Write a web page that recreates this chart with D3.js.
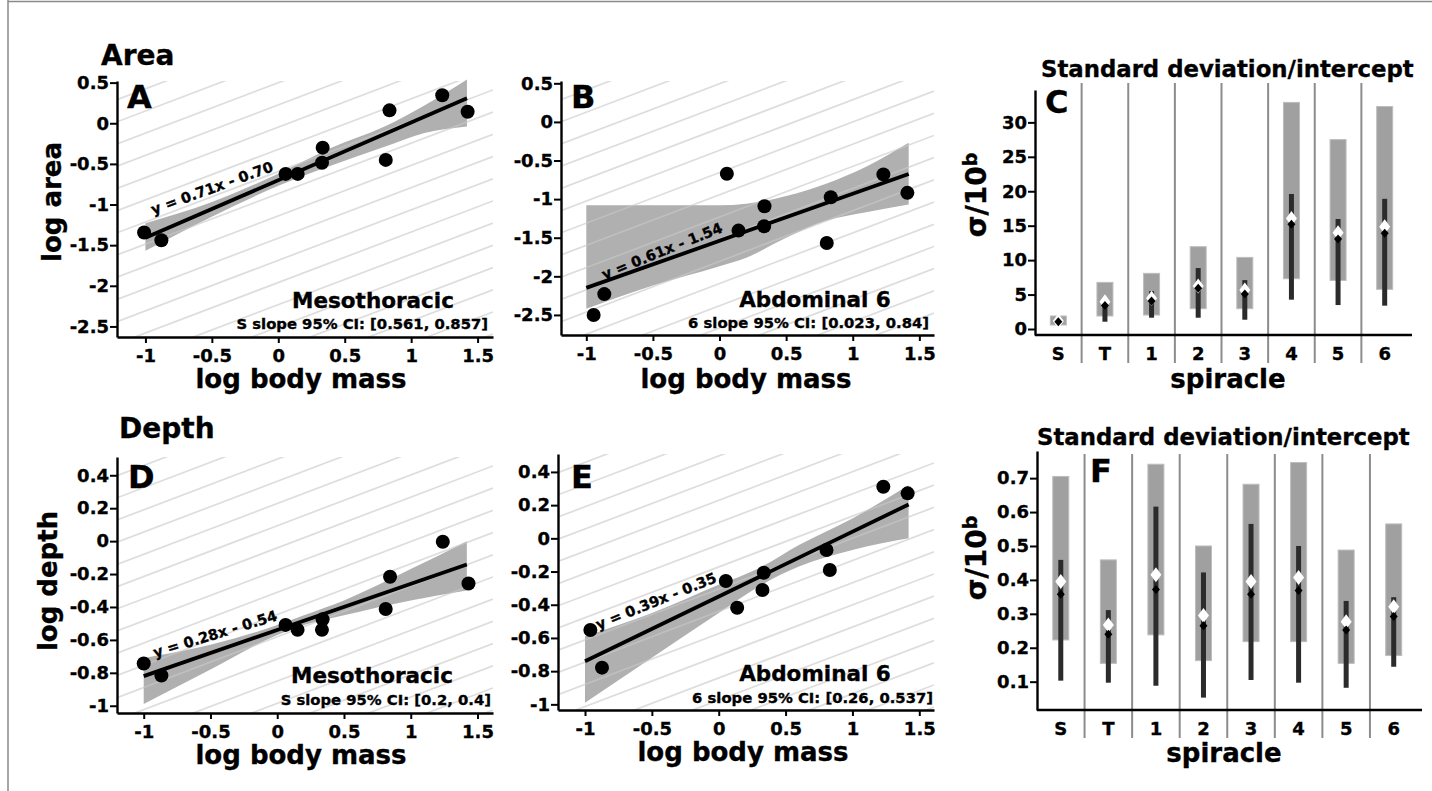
<!DOCTYPE html>
<html>
<head>
<meta charset="utf-8">
<script src="https://cdn.jsdelivr.net/npm/d3@7"></script>
<style>
	body { margin: 0; background: #fff; }
	text { font-family: "DejaVu Sans", sans-serif; font-weight: bold; fill: #000; stroke: #000; stroke-width: 0.35px; }
</style>
</head>
<body>
<svg width="1432" height="791"></svg>
<script>
// scatter data (log body mass vs log area / log depth)
var massA = [-1.01, -0.88, 0.055, 0.146, 0.334, 0.329, 0.809, 0.837, 1.234, 1.425];
var areaMeso = [-1.345, -1.439, -0.623, -0.623, -0.30, -0.485, -0.451, 0.159, 0.344, 0.142];
var massB = [-0.945, -0.865, 0.055, 0.1425, 0.3375, 0.335, 0.805, 0.835, 1.23, 1.41];
var areaAbd6 = [-2.50, -2.23, -0.672, -1.408, -1.092, -1.352, -1.568, -0.975, -0.680, -0.919];
var massD = [-1.0, -0.8675, 0.0625, 0.1525, 0.34, 0.335, 0.8125, 0.845, 1.24, 1.4325];
var depthMeso = [-0.743, -0.816, -0.509, -0.539, -0.475, -0.539, -0.412, -0.216, -0.004, -0.257];
var massE = [-0.96, -0.873, 0.053, 0.138, 0.337, 0.327, 0.806, 0.831, 1.231, 1.413];
var depthAbd6 = [-0.552, -0.779, -0.257, -0.418, -0.207, -0.311, -0.070, -0.191, 0.311, 0.271];

// fitted lines y = a x + b
var fitSlopes = [0.71, 0.61, 0.28, 0.39];
var fitIntercepts = [-0.70, -1.54, -0.54, -0.35];
var fitRange = [-1, 1.42];
var fitLabels = ["y = 0.71x - 0.70", "y = 0.61x - 1.54", "y = 0.28x - 0.54", "y = 0.39x - 0.35"];
var regionLabels = ["Mesothoracic", "Abdominal 6", "Mesothoracic", "Abdominal 6"];
var ciLabels = ["S slope 95% CI: [0.561, 0.857]", "6 slope 95% CI: [0.023, 0.84]",
	"S slope 95% CI: [0.2, 0.4]", "6 slope 95% CI: [0.26, 0.537]"];

// confidence bands
var bandXA = [-1.0, -0.5, 0.0, 0.4, 0.8, 1.1, 1.42];
var bandLoA = [-1.57, -1.15, -0.77, -0.52, -0.29, -0.12, -0.04];
var bandHiA = [-1.23, -0.97, -0.62, -0.30, -0.04, 0.22, 0.54];
var bandXB = [-1.0, -0.5, 0.0, 0.2, 0.5, 0.8, 1.1, 1.42];
var bandLoB = [-2.42, -2.12, -1.87, -1.76, -1.50, -1.28, -1.17, -1.07];
var bandHiB = [-1.08, -1.08, -1.08, -1.06, -0.96, -0.80, -0.58, -0.27];
var bandXD = [-1.0, -0.5, 0.0, 0.2, 0.5, 1.0, 1.42];
var bandLoD = [-0.99, -0.78, -0.57, -0.51, -0.45, -0.36, -0.30];
var bandHiD = [-0.71, -0.63, -0.51, -0.45, -0.36, -0.17, 0.0];
var bandXE = [-1.0, -0.5, 0.0, 0.3, 0.6, 1.0, 1.42];
var bandLoE = [-0.99, -0.72, -0.45, -0.29, -0.17, -0.07, 0.0];
var bandHiE = [-0.59, -0.45, -0.28, -0.18, -0.04, 0.12, 0.32];

// tick values
var massTicks = [-1, -0.5, 0, 0.5, 1, 1.5];
var areaTicks = [0.5, 0, -0.5, -1, -1.5, -2, -2.5];
var depthTicks = [0.4, 0.2, 0, -0.2, -0.4, -0.6, -0.8, -1];
var sdAreaTicks = [0, 5, 10, 15, 20, 25, 30];
var sdDepthTicks = [0.1, 0.2, 0.3, 0.4, 0.5, 0.6, 0.7];

// standard deviation / intercept per spiracle
var spiracles = ["S", "T", "1", "2", "3", "4", "5", "6"];
var sdAreaBoxLo = [0.58, 1.89, 2.03, 2.95, 2.95, 7.3, 7.06, 5.76];
var sdAreaBoxHi = [1.89, 6.77, 8.08, 11.95, 10.4, 32.9, 27.5, 32.3];
var sdAreaBarLo = [0.75, 1.06, 1.64, 1.64, 1.35, 4.26, 3.48, 3.39];
var sdAreaBarHi = [1.35, 4.5, 5.5, 8.85, 7.1, 19.6, 15.97, 18.9];
var sdAreaMed = [1.06, 3.43, 4.06, 5.9, 5.08, 15.2, 13.06, 13.9];
var sdAreaMean = [1.16, 3.97, 4.45, 6.24, 5.66, 16.06, 13.98, 14.85];
var sdDepthBoxLo = [0.223, 0.154, 0.238, 0.162, 0.218, 0.218, 0.154, 0.177];
var sdDepthBoxHi = [0.705, 0.459, 0.741, 0.500, 0.682, 0.746, 0.488, 0.565];
var sdDepthBarLo = [0.103, 0.097, 0.088, 0.053, 0.105, 0.097, 0.082, 0.144];
var sdDepthBarHi = [0.459, 0.311, 0.616, 0.422, 0.565, 0.500, 0.338, 0.349];
var sdDepthMed = [0.358, 0.240, 0.372, 0.265, 0.358, 0.369, 0.252, 0.292];
var sdDepthMean = [0.395, 0.267, 0.415, 0.295, 0.395, 0.407, 0.277, 0.321];

var svg = d3.select("svg");
var defs = svg.append("defs");

// frame
svg.append("line").attr("x1", 8).attr("x2", 8).attr("y1", 0).attr("y2", 791)
	.attr("stroke", "#8a8a8a").attr("stroke-width", 1.5);
svg.append("line").attr("x1", 8).attr("x2", 1432).attr("y1", 1.5).attr("y2", 1.5)
	.attr("stroke", "#8a8a8a").attr("stroke-width", 1.5);

function fmt(d) { return String(+d.toFixed(2)); }

function styleAxis(g) {
	g.attr("font-family", null).attr("font-size", null);
	g.select(".domain").attr("stroke", "#000").attr("stroke-width", 2.4);
	g.selectAll(".tick line").attr("stroke", "#000").attr("stroke-width", 2);
	g.selectAll(".tick text").style("font-size", "18px");
}

var scatterPanels = [
	{ id: "A", x: massA, y: areaMeso, bx: bandXA, lo: bandLoA, hi: bandHiA,
		left: 117, right: 493, top: 81, bottom: 337, xd: [-1.214, 1.616], yd: [-2.63, 0.52],
		yTicks: areaTicks, eq: [212, 188, -20], lab: [127, 108], region: [373, 308], ci: [488, 329] },
	{ id: "B", x: massB, y: areaAbd6, bx: bandXB, lo: bandLoB, hi: bandHiB,
		left: 561, right: 934, top: 81, bottom: 335, xd: [-1.19, 1.61], yd: [-2.76, 0.53],
		yTicks: areaTicks, eq: [662, 251, -22], lab: [571, 108], region: [815, 307], ci: [929, 328] },
	{ id: "D", x: massD, y: depthMeso, bx: bandXD, lo: bandLoD, hi: bandHiD,
		left: 117, right: 493, top: 457, bottom: 713, xd: [-1.2, 1.616], yd: [-1.044, 0.511],
		yTicks: depthTicks, eq: [215, 634, -17], lab: [128, 488], region: [372, 683], ci: [491, 705] },
	{ id: "E", x: massE, y: depthAbd6, bx: bandXE, lo: bandLoE, hi: bandHiE,
		left: 558, right: 934, top: 454, bottom: 710, xd: [-1.202, 1.61], yd: [-1.034, 0.508],
		yTicks: depthTicks, eq: [656, 601, -22], lab: [571, 488], region: [815, 681], ci: [933, 703] }
];

scatterPanels.forEach(function (p, i) {
	var x = d3.scaleLinear().domain(p.xd).range([p.left, p.right]);
	var y = d3.scaleLinear().domain(p.yd).range([p.bottom, p.top]);
	var g = svg.append("g");

	defs.append("clipPath").attr("id", "clip" + p.id)
		.append("rect").attr("x", p.left).attr("y", p.top)
		.attr("width", p.right - p.left).attr("height", p.bottom - p.top);

	// confidence band
	var band = p.bx.map(function (d, j) { return { x: d, lo: p.lo[j], hi: p.hi[j] }; });
	g.append("path")
		.datum(band)
		.attr("fill", "#b0b0b0")
		.attr("d", d3.area()
			.x(function (d) { return x(d.x); })
			.y0(function (d) { return y(d.lo); })
			.y1(function (d) { return y(d.hi); })
			.curve(d3.curveMonotoneX));

	// diagonal hatch background
	var hatch = g.append("g").attr("clip-path", "url(#clip" + p.id + ")");
	var w = p.right - p.left, slope = 0.38, sp = 22.2;
	for (var k = 0; p.top - 3.6 + k * sp < p.bottom + slope * w; k++) {
		var y0 = p.top - 3.6 + k * sp;
		hatch.append("line")
			.attr("x1", p.left).attr("y1", y0)
			.attr("x2", p.right).attr("y2", y0 - slope * w)
			.attr("stroke", "rgb(200,200,200)").attr("stroke-opacity", 0.62)
			.attr("stroke-width", 1.7);
	}

	// fitted line
	var line = d3.line()
		.x(function (d) { return x(d); })
		.y(function (d) { return y(fitSlopes[i] * d + fitIntercepts[i]); });
	g.append("path")
		.datum(fitRange)
		.attr("fill", "none")
		.attr("stroke", "#000")
		.attr("stroke-width", 3.8)
		.attr("d", line);

	g.selectAll(".dot")
		.data(p.x)
		.enter().append("circle")
		.attr("class", "dot")
		.attr("cx", function (d) { return x(d); })
		.attr("cy", function (d, j) { return y(p.y[j]); })
		.attr("r", 7)
		.attr("fill", "#000");

	g.append("g")
		.attr("transform", "translate(0," + p.bottom + ")")
		.call(d3.axisBottom(x).tickValues(massTicks).tickFormat(fmt).tickSize(6).tickPadding(6).tickSizeOuter(0))
		.call(styleAxis);
	g.append("g")
		.attr("transform", "translate(" + p.left + ",0)")
		.call(d3.axisLeft(y).tickValues(p.yTicks).tickFormat(fmt).tickSize(7).tickPadding(1).tickSizeOuter(0))
		.call(styleAxis);

	g.append("text")
		.attr("transform", "translate(" + p.eq[0] + "," + p.eq[1] + ") rotate(" + p.eq[2] + ")")
		.attr("text-anchor", "middle").attr("dy", "0.35em")
		.style("font-size", "14.5px")
		.text(fitLabels[i]);
	g.append("text")
		.attr("x", p.lab[0]).attr("y", p.lab[1])
		.style("font-size", "32px")
		.text(p.id);
	g.append("text")
		.attr("x", p.region[0]).attr("y", p.region[1])
		.attr("text-anchor", "middle")
		.style("font-size", "21.5px")
		.text(regionLabels[i]);
	g.append("text")
		.attr("x", p.ci[0]).attr("y", p.ci[1])
		.attr("text-anchor", "end")
		.style("font-size", "14.8px")
		.text(ciLabels[i]);
});

// axis titles for the scatter panels
[[301, 388], [746, 388], [301, 764], [743, 761]].forEach(function (c) {
	svg.append("text").attr("x", c[0]).attr("y", c[1])
		.attr("text-anchor", "middle").style("font-size", "26px")
		.text("log body mass");
});
svg.append("text")
	.attr("transform", "translate(61,202) rotate(-90)")
	.attr("text-anchor", "middle").style("font-size", "26px")
	.text("log area");
svg.append("text")
	.attr("transform", "translate(57,581) rotate(-90)")
	.attr("text-anchor", "middle").style("font-size", "26px")
	.text("log depth");
svg.append("text").attr("x", 101).attr("y", 65).style("font-size", "28px").text("Area");
svg.append("text").attr("x", 119).attr("y", 438).style("font-size", "28px").text("Depth");

// standard deviation panels
var sdPanels = [
	{ id: "C", boxLo: sdAreaBoxLo, boxHi: sdAreaBoxHi, barLo: sdAreaBarLo, barHi: sdAreaBarHi,
		med: sdAreaMed, mean: sdAreaMean, ticks: sdAreaTicks,
		left: 1035, right: 1412, bandRight: 1408, top: 90, bottom: 335, yd: [-0.87, 34.7],
		sep: [83, 363], title: [1041, 77], lab: [1045, 113], ylab: [986, 195], xlab: [1228, 388] },
	{ id: "F", boxLo: sdDepthBoxLo, boxHi: sdDepthBoxHi, barLo: sdDepthBarLo, barHi: sdDepthBarHi,
		med: sdDepthMed, mean: sdDepthMean, ticks: sdDepthTicks,
		left: 1037, right: 1422, bandRight: 1417.5, top: 451, bottom: 710, yd: [0.0165, 0.78],
		sep: [454, 738], title: [1037, 445], lab: [1090, 482], ylab: [986, 558], xlab: [1224, 762] }
];

sdPanels.forEach(function (p) {
	var x = d3.scaleBand().domain(spiracles).range([p.left, p.bandRight]);
	var y = d3.scaleLinear().domain(p.yd).range([p.bottom, p.top]);
	var g = svg.append("g");
	var cx = function (d) { return x(d) + x.bandwidth() / 2; };

	// separators between spiracles
	g.selectAll(".sep")
		.data(spiracles.slice(1))
		.enter().append("line")
		.attr("x1", function (d) { return x(d); })
		.attr("x2", function (d) { return x(d); })
		.attr("y1", p.sep[0]).attr("y2", p.sep[1])
		.attr("stroke", "#8c8c8c").attr("stroke-width", 2);

	g.selectAll(".box")
		.data(spiracles)
		.enter().append("rect")
		.attr("x", function (d) { return cx(d) - 8; })
		.attr("width", 16)
		.attr("y", function (d, j) { return y(p.boxHi[j]); })
		.attr("height", function (d, j) { return y(p.boxLo[j]) - y(p.boxHi[j]); })
		.attr("fill", "#a0a0a0").attr("stroke", "#bdbdbd").attr("stroke-width", 1);

	g.selectAll(".bar")
		.data(spiracles)
		.enter().append("rect")
		.attr("x", function (d) { return cx(d) - 2.5; })
		.attr("width", 5)
		.attr("y", function (d, j) { return y(p.barHi[j]); })
		.attr("height", function (d, j) { return y(p.barLo[j]) - y(p.barHi[j]); })
		.attr("fill", "#2b2b2b");

	g.selectAll(".mean")
		.data(spiracles)
		.enter().append("path")
		.attr("transform", function (d, j) { return "translate(" + cx(d) + "," + y(p.mean[j]) + ")"; })
		.attr("d", "M0,-7.5L5.5,0L0,7.5L-5.5,0Z")
		.attr("fill", "#fff");

	g.selectAll(".med")
		.data(spiracles)
		.enter().append("path")
		.attr("transform", function (d, j) { return "translate(" + cx(d) + "," + y(p.med[j]) + ")"; })
		.attr("d", "M0,-4.5L4,0L0,4.5L-4,0Z")
		.attr("fill", "#000");

	g.append("g")
		.attr("transform", "translate(0," + p.bottom + ")")
		.call(d3.axisBottom(x).tickSize(0).tickPadding(12))
		.call(styleAxis)
		.select(".domain").attr("d", "M" + p.left + ",0H" + p.right);
	g.append("g")
		.attr("transform", "translate(" + p.left + ",0)")
		.call(d3.axisLeft(y).tickValues(p.ticks).tickFormat(fmt).tickSize(7).tickPadding(1).tickSizeOuter(0))
		.call(styleAxis);

	g.append("text").attr("x", p.title[0]).attr("y", p.title[1])
		.style("font-size", "22.8px").text("Standard deviation/intercept");
	g.append("text").attr("x", p.lab[0]).attr("y", p.lab[1])
		.style("font-size", "32px").text(p.id);
	g.append("text").attr("x", p.xlab[0]).attr("y", p.xlab[1])
		.attr("text-anchor", "middle").style("font-size", "26px").text("spiracle");
	var yl = g.append("text")
		.attr("transform", "translate(" + p.ylab[0] + "," + p.ylab[1] + ") rotate(-90)")
		.attr("text-anchor", "middle").style("font-size", "28px");
	yl.append("tspan").text("σ/10");
	yl.append("tspan").attr("dy", "-0.5em").style("font-size", "19px").text("b");
});
</script>
</body>
</html>
